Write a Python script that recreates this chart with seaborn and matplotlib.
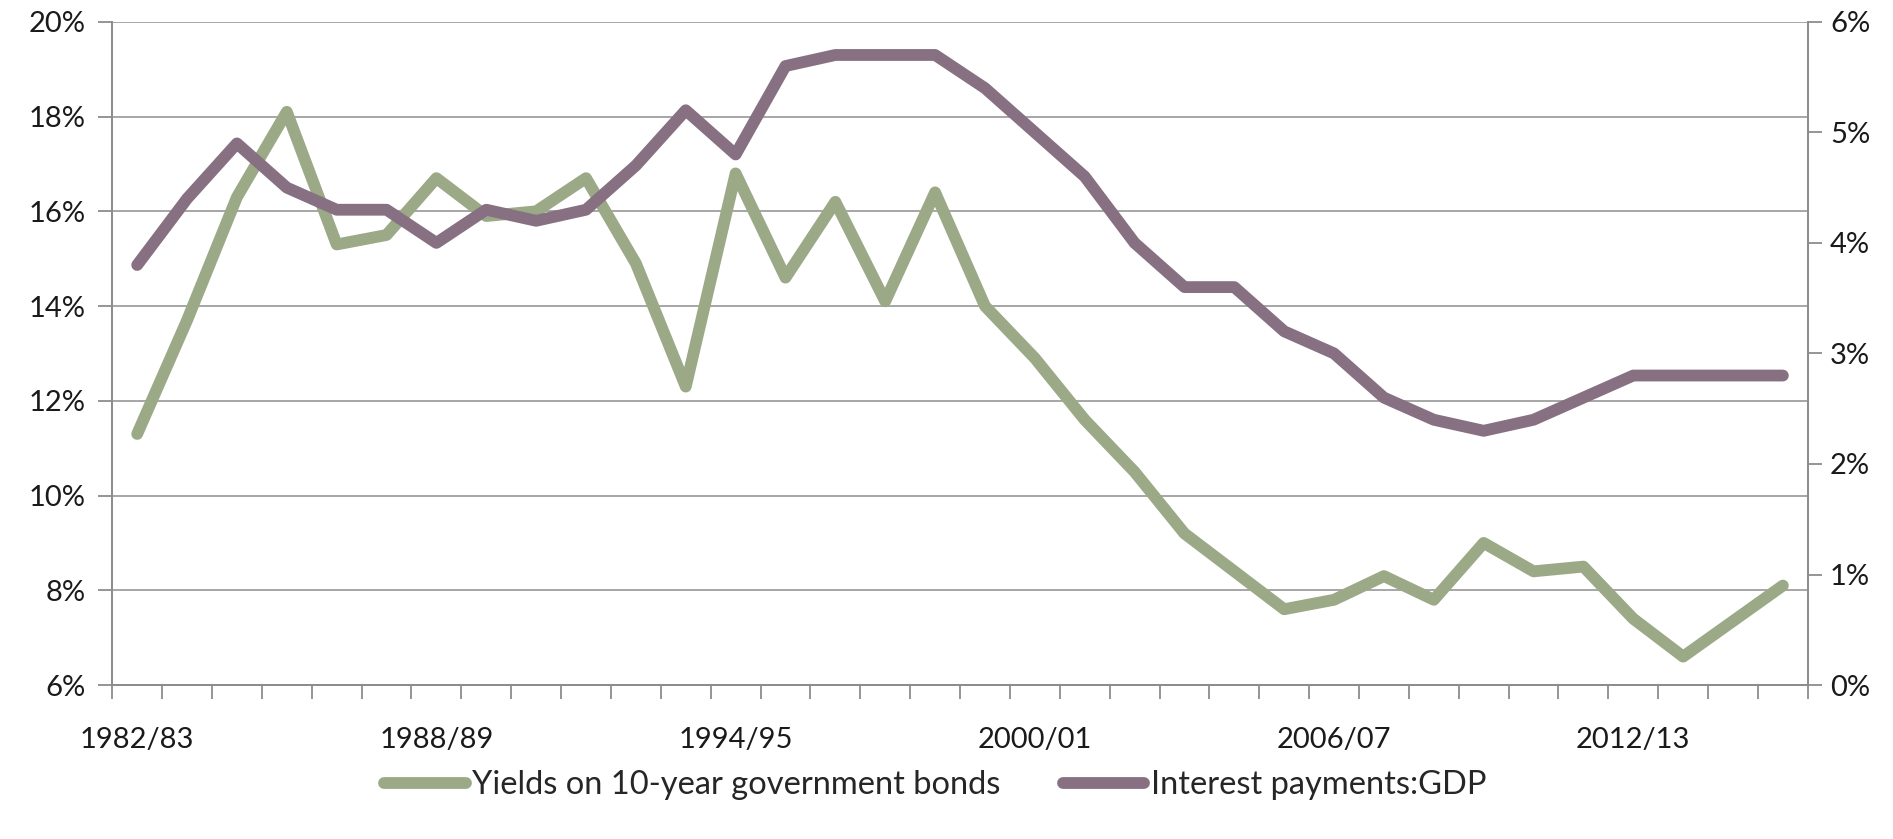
import numpy as np
import pandas as pd
import seaborn as sns
import matplotlib.pyplot as plt
from matplotlib.ticker import FuncFormatter, MultipleLocator

# Datos
years = [f"{y}/{(y + 1) % 100:02d}" for y in range(1982, 2016)]
bond_yields = [11.3, 13.7, 16.3, 18.1, 15.3, 15.5, 16.7, 15.9, 16.0, 16.7,
               14.9, 12.3, 16.8, 14.6, 16.2, 14.1, 16.4, 14.0, 12.9, 11.6,
               10.5, 9.2, 8.4, 7.6, 7.8, 8.3, 7.8, 9.0, 8.4, 8.5,
               7.4, 6.6, 7.35, 8.1]
interest_gdp = [3.8, 4.4, 4.9, 4.5, 4.3, 4.3, 4.0, 4.3, 4.2, 4.3,
                4.7, 5.2, 4.8, 5.6, 5.7, 5.7, 5.7, 5.4, 5.0, 4.6,
                4.0, 3.6, 3.6, 3.2, 3.0, 2.6, 2.4, 2.3, 2.4, 2.6,
                2.8, 2.8, 2.8, 2.8]
labelled = ["1982/83", "1988/89", "1994/95", "2000/01", "2006/07", "2012/13"]

df = pd.DataFrame({"year": years, "yields": bond_yields, "interest": interest_gdp})

green = "#9ba987"
purple = "#867082"
axis_grey = "#8c8c8c"

sns.set_style("white")
plt.rcParams["font.family"] = ["Lato", "DejaVu Sans"]

fig = plt.figure(figsize=(18.93, 8.39), dpi=100)
ax = fig.add_axes([0.0593, 0.1835, 0.8957, 0.7905])
ax2 = ax.twinx()

sns.lineplot(data=df, x="year", y="yields", ax=ax, color=green, lw=8.5,
             sort=False, label="Yields on 10-year government bonds", legend=False,
             solid_capstyle="round", solid_joinstyle="round")
sns.lineplot(data=df, x="year", y="interest", ax=ax2, color=purple, lw=8.5,
             sort=False, label="Interest payments:GDP", legend=False,
             solid_capstyle="round", solid_joinstyle="round")

ax.set_ylim(6, 20)
ax2.set_ylim(0, 6)
ax.set_xlim(-0.5, len(years) - 0.5)
ax.yaxis.set_major_locator(MultipleLocator(2))
ax2.yaxis.set_major_locator(MultipleLocator(1))
pct = FuncFormatter(lambda v, p: f"{v:.0f}%")
ax.yaxis.set_major_formatter(pct)
ax2.yaxis.set_major_formatter(pct)

ax.set_xticks([years.index(l) for l in labelled])
ax.set_xticklabels(labelled)
ax.set_xticks(np.arange(-0.5, len(years)), minor=True)
ax.tick_params(axis="x", which="major", bottom=True, length=0, pad=30,
               labelsize=21, colors="#1a1a1a")
ax.tick_params(axis="x", which="minor", bottom=True, length=10, width=1.3,
               color=axis_grey, direction="out")
ax.tick_params(axis="y", left=True, length=10, width=1.3, color=axis_grey, labelsize=21,
               labelcolor="#1a1a1a", pad=9, direction="out")
ax2.tick_params(axis="y", right=True, length=10, width=1.3, color=axis_grey, labelsize=21,
                labelcolor="#1a1a1a", pad=6, direction="out")

ax.grid(axis="y", color="#a6a6a6", lw=1.4)
ax.set_axisbelow(True)
ax.set_xlabel("")
ax.set_ylabel("")
ax2.set_ylabel("")
for a in (ax, ax2):
    a.spines["top"].set_visible(False)
    for s in ("left", "right", "bottom"):
        a.spines[s].set_color(axis_grey)
        a.spines[s].set_linewidth(1.3)

h1, l1 = ax.get_legend_handles_labels()
h2, l2 = ax2.get_legend_handles_labels()
fig.legend(h1 + h2, l1 + l2, loc="center", bbox_to_anchor=(0.494, 0.064), ncol=2,
           frameon=False, fontsize=23.5, handlelength=2.5, handletextpad=0.2,
           columnspacing=1.9)

fig.savefig("out.png", dpi=100)
